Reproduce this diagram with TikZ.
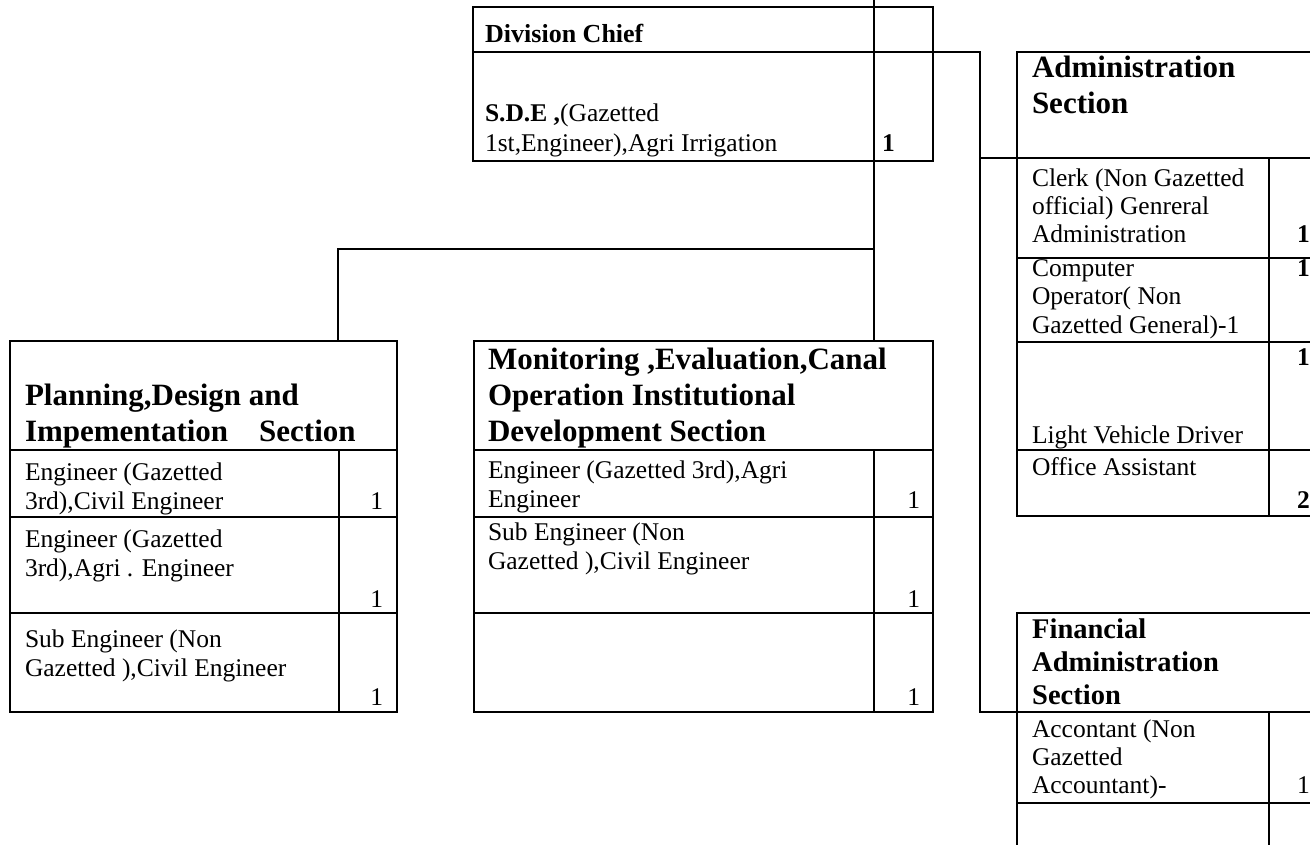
\documentclass[tikz,border=0pt]{standalone}
\usepackage{fontspec}
\setmainfont{Liberation Serif}
\usetikzlibrary{calc}

% text sizes used in the chart
\newcommand\bodyfont{\fontsize{25.5}{29.5}\selectfont}
\newcommand\rbodyfont{\fontsize{25.5}{28}\selectfont}
\newcommand\headfont{\fontsize{31}{36}\selectfont\bfseries}
\newcommand\fheadfont{\fontsize{28.5}{33}\selectfont\bfseries}
% left-aligned stack of lines whose baseline is the first line
\newcommand\stack[1]{\begin{tabular}[t]{@{}l@{}}#1\end{tabular}}

\tikzset{
  rule/.style={line width=1.8pt},
  box/.style={rule, draw, inner sep=0pt, outer sep=0pt, anchor=north west},
  txt/.style={anchor=base west, inner sep=0pt, outer sep=0pt, font=\bodyfont},
  rtxt/.style={txt, font=\rbodyfont},
  head/.style={anchor=base west, inner sep=0pt, outer sep=0pt, font=\headfont},
  num/.style={anchor=base east, inner sep=0pt, outer sep=0pt, font=\bodyfont},
  bnum/.style={anchor=base west, inner sep=0pt, outer sep=0pt, font=\bodyfont\bfseries},
}

\begin{document}
\begin{tikzpicture}[x=1pt,y=-1pt]
\useasboundingbox (0,0) rectangle (1310,845);
\clip (0,0) rectangle (1310,845);

% ---------- Division Chief ----------
\node[box, minimum width=460pt, minimum height=154pt] (chief) at (473,7) {};
\draw[rule] (chief.west |- 0,52) -- (chief.east |- 0,52);
\draw[rule] (874,0) -- (chief.south -| 874,0);
\node[anchor=base west, inner sep=0pt, font=\fontsize{26}{30}\selectfont\bfseries] (chiefT) at (485,43) {Division Chief};
\node[txt] (chiefP) at (485,122) {\stack{\textbf{S.D.E ,}(Gazetted\\1st,Engineer),Agri Irrigation}};
\node[bnum] (chiefN) at (882,152) {1};

% ---------- Planning, Design and Implementation ----------
\node[box, minimum width=387pt, minimum height=371pt] (plan) at (10,341) {};
\draw[rule] (plan.west |- 0,450) -- (plan.east |- 0,450);
\draw[rule] (339,450) -- (plan.south -| 339,0);
\draw[rule] (plan.west |- 0,517) -- (plan.east |- 0,517);
\draw[rule] (plan.west |- 0,613) -- (plan.east |- 0,613);
\node[head] (planH) at (25,405) {\stack{Planning,Design and\\Impementation\hspace{31pt}Section}};
\node[txt] (plan1) at (25,480) {\stack{Engineer (Gazetted\\3rd),Civil Engineer}};
\node[num] (plan1n) at (383,509) {1};
\node[txt] (plan2) at (25,547) {\stack{Engineer (Gazetted\\3rd),Agri . Engineer}};
\node[num] (plan2n) at (383,607) {1};
\node[txt] (plan3) at (25,647) {\stack{Sub Engineer (Non\\Gazetted ),Civil Engineer}};
\node[num] (plan3n) at (383,705) {1};

% ---------- Monitoring, Evaluation ----------
\node[box, minimum width=459pt, minimum height=371pt] (mon) at (474,341) {};
\draw[rule] (mon.west |- 0,450) -- (mon.east |- 0,450);
\draw[rule] (874,450) -- (mon.south -| 874,0);
\draw[rule] (mon.west |- 0,517) -- (mon.east |- 0,517);
\draw[rule] (mon.west |- 0,613) -- (mon.east |- 0,613);
\node[head] (monH) at (488,369) {\stack{Monitoring ,Evaluation,Canal\\Operation Institutional\\Development Section}};
\node[txt] (mon1) at (488,478) {\stack{Engineer (Gazetted 3rd),Agri\\Engineer}};
\node[num] (mon1n) at (920,508) {1};
\node[txt] (mon2) at (488,540) {\stack{Sub Engineer (Non\\Gazetted ),Civil Engineer}};
\node[num] (mon2n) at (920,607) {1};
\node[num] (mon3n) at (920,705) {1};

% ---------- Administration Section ----------
\node[box, minimum width=330pt, minimum height=106pt] (adm) at (1017,52) {};
\node[box, minimum width=330pt, minimum height=358pt] (admrows) at (1017,158) {};
\draw[rule] (1269,158) -- (admrows.south -| 1269,0);
\draw[rule] (admrows.west |- 0,258) -- (admrows.east |- 0,258);
\draw[rule] (admrows.west |- 0,342) -- (admrows.east |- 0,342);
\draw[rule] (admrows.west |- 0,450) -- (admrows.east |- 0,450);
\node[head] (admH) at (1032,78) {\stack{Administration\\Section}};
\node[rtxt] (adm1) at (1032,187) {\stack{Clerk (Non Gazetted\\official) Genreral\\Administration}};
\node[bnum] (adm1n) at (1297,243) {1};
\node[rtxt] (adm2) at (1032,277) {\stack{Computer\\Operator( Non\\Gazetted General)-1}};
\node[bnum] (adm2n) at (1297,277) {1};
\node[rtxt] (adm3) at (1032,443) {Light Vehicle Driver};
\node[bnum] (adm3n) at (1297,365) {1};
\node[rtxt] (adm4) at (1032,475) {Office Assistant};
\node[bnum] (adm4n) at (1297,508) {2};

% ---------- Financial Administration Section ----------
\node[box, minimum width=330pt, minimum height=99pt] (fin) at (1017,613) {};
\node[box, minimum width=330pt, minimum height=160pt] (finrows) at (1017,712) {};
\draw[rule] (1269,712) -- (finrows.south -| 1269,0);
\draw[rule] (finrows.west |- 0,803) -- (finrows.east |- 0,803);
\node[anchor=base west, inner sep=0pt, font=\fheadfont] (finH) at (1032,638) {\stack{Financial\\Administration\\Section}};
\node[rtxt] (fin1) at (1032,737) {\stack{Accontant (Non\\Gazetted\\Accountant)-}};
\node[anchor=base west, inner sep=0pt, font=\bodyfont] (fin1n) at (1297,793) {1};

% ---------- connectors ----------
\coordinate (split) at (874,249);
\draw[rule] (chief.south -| 874,0) -- (mon.north -| 874,0);
\draw[rule] (split) -| (plan.north -| 338,0);
\coordinate (rbus) at (980,52);
\draw[rule] (chief.east |- rbus) -- (rbus) -- (rbus |- fin.south west) -- (fin.south west);
\draw[rule] (rbus |- adm.south west) -- (adm.south west);
\end{tikzpicture}
\end{document}
